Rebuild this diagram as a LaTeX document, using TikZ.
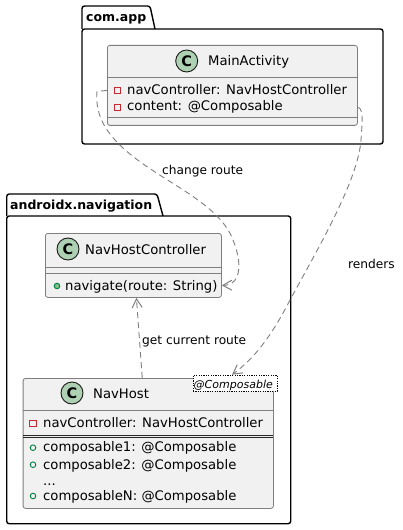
\documentclass[tikz,border=0pt]{standalone}
\usepackage{fontspec}
\setmainfont{DejaVu Sans}
\usetikzlibrary{arrows.meta,calc}
\definecolor{clsfill}{HTML}{F1F1F1}
\definecolor{clsline}{HTML}{7F7F7F}
\definecolor{circfill}{HTML}{ADD1B2}
\definecolor{privred}{HTML}{C82930}
\definecolor{pubgreen}{HTML}{038048}
\definecolor{pubfill}{HTML}{84BE84}
\definecolor{arrowgray}{HTML}{808080}
\begin{document}
\begin{tikzpicture}[x=1bp,y=-1bp,
  classbox/.style={draw=clsline, fill=clsfill, rounded corners=2.5bp, line width=0.8bp, inner sep=0, anchor=north west},
  sepline/.style={draw=clsline, line width=0.8bp},
  dblline/.style={draw=black!85, line width=0.8bp},
  cicon/.style={circle, draw=black!90, line width=0.9bp, fill=circfill, minimum size=22bp, inner sep=0, font=\fontsize{14.5bp}{16bp}\selectfont\bfseries},
  ctext/.style={inner sep=0, anchor=base west, font=\fontsize{13.2bp}{15bp}\selectfont},
  ltext/.style={inner sep=0, anchor=base west, font=\fontsize{12.2bp}{14bp}\selectfont},
  ptext/.style={inner sep=0, anchor=base west, font=\fontsize{12.5bp}{14bp}\selectfont\bfseries},
  pkg/.style={draw=black, line width=1.4bp, rounded corners=2.5bp},
  priv/.style={draw=privred, line width=0.9bp},
  pubfield/.style={draw=pubgreen, line width=0.9bp},
  pubmeth/.style={draw=pubgreen, fill=pubfill, line width=0.9bp},
  dep/.style={draw=arrowgray, line width=0.9bp, dash pattern=on 6bp off 4bp, -{Straight Barb[length=9bp,width=10bp,line width=1bp]}},
]
\useasboundingbox (0,0) rectangle (402,530);
\fill[white] (0,0) rectangle (402,530);

% ---------- package com.app ----------
\draw[pkg] (82,29) -- (82,6) -- (150,6) -- (155,29);
\draw[pkg] (82,29) rectangle (383,144);
\node[ptext] (pkgapp) at (86,21.7) {com.app};

% ---------- package androidx.navigation ----------
\draw[pkg] (6.7,216) -- (6.7,194) -- (157,194) -- (163,216);
\draw[pkg] (6.7,216) rectangle (290.7,523.7);
\node[ptext] (pkgnav) at (10,209.3) {androidx.navigation};

% ---------- MainActivity ----------
\node[classbox, minimum width=250bp, minimum height=80bp] (ma) at (107,45) {};
\node[cicon] (maC) at (186.7,61) {C};
\node[ctext] (maT) at (208,65.7) {MainActivity};
\draw[sepline] (107,77) -- (357,77);
\draw[sepline] (107,117) -- (357,117);
\draw[priv] (114.4,87.2) rectangle (120.6,93.4);
\node[ctext] (maA1) at (127,95) {navController: NavHostController};
\draw[priv] (114.4,104.6) rectangle (120.6,110.8);
\node[ctext] (maA2) at (127,111) {content: @Composable};

% ---------- NavHostController ----------
\node[classbox, minimum width=176bp, minimum height=64bp] (nhc) at (45,233) {};
\node[cicon] (nhcC) at (68,249) {C};
\node[ctext] (nhcT) at (85,254) {NavHostController};
\draw[sepline] (45,267) -- (221,267);
\draw[sepline] (45,273) -- (221,273);
\draw[pubmeth] (57,286) circle (2.8bp);
\node[ctext] (nhcM) at (65,290.5) {navigate(route: String)};

% ---------- NavHost ----------
\node[classbox, minimum width=250.3bp, minimum height=130bp] (nh) at (22.7,378) {};
\node[cicon] (nhC) at (72,393) {C};
\node[ctext] (nhT) at (93,398.7) {NavHost};
\draw[sepline] (22.7,410) -- (273,410);
\draw[priv] (29.9,420) rectangle (36.1,426.2);
\node[ctext] (nhA) at (43,427.3) {navController: NavHostController};
\draw[dblline] (22.7,435.3) -- (273,435.3);
\draw[dblline] (22.7,437.6) -- (273,437.6);
\draw[pubfield] (33,447.7) circle (2.8bp);
\node[ctext] (nhF1) at (43,451.7) {composable1: @Composable};
\draw[pubfield] (33,464.7) circle (2.8bp);
\node[ctext] (nhF2) at (43,469) {composable2: @Composable};
\node[ctext] (nhF3) at (43,485.7) {...};
\draw[pubfield] (33,496) circle (2.8bp);
\node[ctext] (nhF4) at (43,500.3) {composableN: @Composable};

% stereotype
\node[draw=black, dash pattern=on 1.2bp off 1.2bp, line width=0.6bp, fill=white, minimum width=84bp, minimum height=16.3bp, inner sep=0, anchor=north west] (stereo) at (192.7,374.7) {};
\node[inner sep=0, anchor=base west, font=\fontsize{11bp}{13bp}\selectfont\itshape] (stereoT) at (193.5,388.3) {@Composable};

% ---------- connectors ----------
\draw[dep] ([yshift=-5bp]ma.west) -- ++(-10,1)
  .. controls (95,115) and (105,135) .. (135,158)
  .. controls (170,185) and (220,205) .. (233,240)
  .. controls (242,262) and (242,285) .. ([yshift=-20bp]nhc.east);
\node[ltext] (lbl1) at (162,175) {change route};

\draw[dep] ([yshift=-22bp]ma.east)
  .. controls (364,108) and (362,125) .. (361,140)
  .. controls (358,180) and (320,245) .. (290,300)
  .. controls (272,335) and (255,358) .. ([xshift=-3bp]stereo.north);
\node[ltext] (lbl2) at (348,268.3) {renders};

\draw[dep] ([xshift=-6bp]nh.north) -- ([xshift=3bp]nhc.south);
\node[ltext] (lbl3) at (142,344) {get current route};
\end{tikzpicture}
\end{document}
